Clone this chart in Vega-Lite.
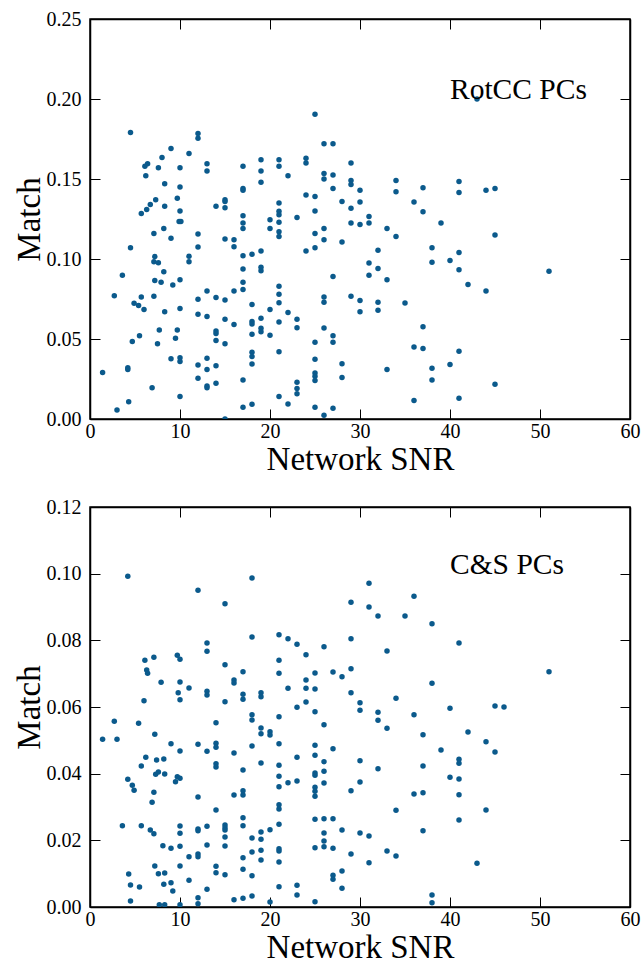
{
"$schema": "https://vega.github.io/schema/vega-lite/v6.json",
"background": "white",
"padding": {"left": 12, "top": 8, "right": 0, "bottom": 0},
"spacing": 19,
"config": {
  "view": {"stroke": "#000", "strokeWidth": 1.5},
  "font": "Liberation Serif",
  "axis": {"labelFont": "Liberation Serif", "labelFontSize": 20, "labelColor": "#000", "titleFont": "Liberation Serif", "titleFontSize": 33, "titleFontWeight": "normal", "titleColor": "#000", "tickSize": -10, "tickColor": "#000", "tickWidth": 1, "domainColor": "#000", "domainWidth": 1.5, "grid": false, "labelFlush": false, "labelOverlap": false}
},
"datasets": {
"top": [
{"snr":4.5,"match":0.179},{"snr":12,"match":0.1785},{"snr":12,"match":0.1754},{"snr":9,"match":0.169},{"snr":11,"match":0.166},{"snr":8,"match":0.1635},{"snr":6.4,"match":0.1596},{"snr":6.1,"match":0.158},{"snr":7.6,"match":0.157},{"snr":10,"match":0.157},{"snr":13,"match":0.1596},{"snr":13,"match":0.155},{"snr":17,"match":0.158},{"snr":19,"match":0.162},{"snr":19,"match":0.155},{"snr":6.2,"match":0.152},{"snr":8.3,"match":0.147},{"snr":10,"match":0.145},{"snr":17,"match":0.144},{"snr":17,"match":0.143},{"snr":19,"match":0.148},{"snr":7.3,"match":0.137},{"snr":9.7,"match":0.138},{"snr":6.7,"match":0.134},{"snr":8.3,"match":0.133},{"snr":15,"match":0.137},{"snr":15,"match":0.136},{"snr":14,"match":0.133},{"snr":15,"match":0.132},{"snr":6.3,"match":0.131},{"snr":10,"match":0.13},
{"snr":25,"match":0.1904},{"snr":26,"match":0.172},{"snr":27,"match":0.172},{"snr":21,"match":0.162},{"snr":21,"match":0.158},{"snr":24,"match":0.163},{"snr":24,"match":0.16},{"snr":22,"match":0.152},{"snr":29,"match":0.16},{"snr":26,"match":0.1535},{"snr":26,"match":0.15},{"snr":27,"match":0.1525},{"snr":29,"match":0.149},{"snr":29,"match":0.1465},{"snr":27,"match":0.144},{"snr":30,"match":0.143},{"snr":34,"match":0.149},{"snr":34,"match":0.142},{"snr":37,"match":0.1446},{"snr":24,"match":0.14},{"snr":25,"match":0.139},{"snr":21,"match":0.135},{"snr":28,"match":0.136},{"snr":30,"match":0.1356},{"snr":36,"match":0.1356},{"snr":25,"match":0.13},{"snr":29,"match":0.1317},
{"snr":43,"match":0.2},{"snr":41,"match":0.1485},{"snr":41,"match":0.1415},{"snr":44,"match":0.143},{"snr":45,"match":0.144},
{"snr":39,"match":0.1225},{"snr":45,"match":0.115},{"snr":41,"match":0.104},{"snr":40,"match":0.099},{"snr":41,"match":0.0933},{"snr":51,"match":0.0923},{"snr":42,"match":0.084},{"snr":44,"match":0.08},{"snr":41,"match":0.0423},{"snr":40,"match":0.034},{"snr":45,"match":0.0217},{"snr":41,"match":0.013},
{"snr":5.7,"match":0.1285},{"snr":17,"match":0.127},{"snr":9.9,"match":0.1235},{"snr":10.1,"match":0.1235},{"snr":17,"match":0.1225},{"snr":17,"match":0.119},{"snr":8.2,"match":0.119},{"snr":7.1,"match":0.116},{"snr":12,"match":0.1156},{"snr":9,"match":0.113},{"snr":15,"match":0.1125},{"snr":16,"match":0.112},{"snr":16,"match":0.1077},{"snr":12,"match":0.1075},{"snr":4.5,"match":0.107},{"snr":19,"match":0.105},{"snr":18,"match":0.103},{"snr":17,"match":0.102},{"snr":7.2,"match":0.1015},{"snr":11,"match":0.1017},{"snr":7.1,"match":0.0983},{"snr":7.6,"match":0.0977},{"snr":11,"match":0.0983},{"snr":17,"match":0.0938},{"snr":19,"match":0.0948},{"snr":19,"match":0.0927},{"snr":8.2,"match":0.092},{"snr":3.6,"match":0.0898},{"snr":7.2,"match":0.0865},{"snr":7.9,"match":0.0854},{"snr":10,"match":0.087},{"snr":9.2,"match":0.0838},{"snr":17,"match":0.0854},{"snr":17,"match":0.081},{"snr":16,"match":0.08},{"snr":13,"match":0.08},{"snr":2.7,"match":0.077},{"snr":7.1,"match":0.0767},{"snr":5.7,"match":0.0763},{"snr":12,"match":0.0748},{"snr":14,"match":0.076},{"snr":15,"match":0.0744},{"snr":4.9,"match":0.0723},{"snr":5.4,"match":0.071},{"snr":6,"match":0.0685},{"snr":10,"match":0.069},{"snr":18,"match":0.0715},{"snr":8.3,"match":0.067},{"snr":12,"match":0.0654},{"snr":13,"match":0.064},{"snr":15,"match":0.0623},{"snr":19,"match":0.063},{"snr":18,"match":0.061},{"snr":18,"match":0.0594},{"snr":16,"match":0.059},{"snr":19,"match":0.0567},{"snr":19,"match":0.0546},{"snr":7.7,"match":0.0556},{"snr":9.7,"match":0.0556},{"snr":14,"match":0.055},{"snr":14,"match":0.0535},{"snr":5.5,"match":0.052},{"snr":9.5,"match":0.0504},{"snr":18,"match":0.053},{"snr":4.7,"match":0.0485},{"snr":14,"match":0.049},{"snr":7.5,"match":0.047},{"snr":15,"match":0.047},{"snr":18,"match":0.0417},{"snr":18,"match":0.039},{"snr":9,"match":0.0377},{"snr":10,"match":0.0383},{"snr":10,"match":0.036},{"snr":13,"match":0.038},{"snr":18,"match":0.0344},{"snr":12,"match":0.0337},{"snr":4.2,"match":0.032},{"snr":4.2,"match":0.031},{"snr":14,"match":0.0333},{"snr":13,"match":0.031},{"snr":1.4,"match":0.029},{"snr":12,"match":0.0254},{"snr":17,"match":0.0244},{"snr":13,"match":0.0206},{"snr":13,"match":0.0196},{"snr":14,"match":0.0223},{"snr":6.9,"match":0.0196},{"snr":10,"match":0.014},{"snr":4.3,"match":0.0108},{"snr":18,"match":0.0092},{"snr":17,"match":0.0073},{"snr":3,"match":0.0056},{"snr":15,"match":0.0},
{"snr":21,"match":0.1298},{"snr":21,"match":0.1277},{"snr":20,"match":0.1246},{"snr":23,"match":0.126},{"snr":21,"match":0.123},{"snr":20,"match":0.119},{"snr":21,"match":0.117},{"snr":21,"match":0.114},{"snr":25,"match":0.116},{"snr":26,"match":0.119},{"snr":26,"match":0.112},{"snr":25,"match":0.107},{"snr":24,"match":0.105},{"snr":28,"match":0.1106},{"snr":29,"match":0.1225},{"snr":30,"match":0.1215},{"snr":31,"match":0.1265},{"snr":31,"match":0.1225},{"snr":33,"match":0.119},{"snr":34,"match":0.114},{"snr":37,"match":0.1296},{"snr":32,"match":0.1054},{"snr":38,"match":0.107},{"snr":38,"match":0.098},{"snr":31,"match":0.0975},{"snr":32,"match":0.094},{"snr":31,"match":0.0898},{"snr":33,"match":0.087},{"snr":27,"match":0.089},{"snr":21,"match":0.083},{"snr":21,"match":0.078},{"snr":21,"match":0.0727},{"snr":26,"match":0.0763},{"snr":26,"match":0.073},{"snr":29,"match":0.0767},{"snr":30,"match":0.074},{"snr":30,"match":0.067},{"snr":32,"match":0.073},{"snr":32,"match":0.068},{"snr":35,"match":0.0725},{"snr":20,"match":0.0685},{"snr":22,"match":0.0665},{"snr":23,"match":0.0623},{"snr":23,"match":0.057},{"snr":21,"match":0.0606},{"snr":26,"match":0.0569},{"snr":20,"match":0.0523},{"snr":27,"match":0.052},{"snr":27,"match":0.048},{"snr":25,"match":0.048},{"snr":37,"match":0.0577},{"snr":36,"match":0.045},{"snr":37,"match":0.044},{"snr":21,"match":0.042},{"snr":25,"match":0.0373},{"snr":28,"match":0.0346},{"snr":33,"match":0.031},{"snr":38,"match":0.0317},{"snr":38,"match":0.0244},{"snr":25,"match":0.0288},{"snr":25,"match":0.0267},{"snr":25,"match":0.024},{"snr":28,"match":0.026},{"snr":23,"match":0.023},{"snr":23,"match":0.019},{"snr":23,"match":0.0158},{"snr":21,"match":0.014},{"snr":22,"match":0.0094},{"snr":25,"match":0.0073},{"snr":27,"match":0.0067},{"snr":26,"match":0.0023},{"snr":36,"match":0.0115}
],
"bottom": [
{"snr":4.2,"match":0.0992},{"snr":18,"match":0.0987},{"snr":12,"match":0.095},{"snr":15,"match":0.091},{"snr":18,"match":0.081},{"snr":13,"match":0.0792},{"snr":13,"match":0.0767},{"snr":6.1,"match":0.074},{"snr":7.1,"match":0.0749},{"snr":6.3,"match":0.0711},{"snr":6.4,"match":0.0701},{"snr":9.7,"match":0.0755},{"snr":10,"match":0.0743},{"snr":15,"match":0.0727},{"snr":17,"match":0.0706},{"snr":16,"match":0.0681},{"snr":16,"match":0.0672},{"snr":7.9,"match":0.0674},{"snr":10,"match":0.0675},{"snr":11,"match":0.0657},{"snr":9.8,"match":0.0643},{"snr":13,"match":0.0647},{"snr":13,"match":0.0636},{"snr":19,"match":0.0643},{"snr":19,"match":0.0631},{"snr":17,"match":0.0638},{"snr":17,"match":0.0623},{"snr":10,"match":0.0622},
{"snr":6,"match":0.0619},{"snr":15,"match":0.0616},{"snr":18,"match":0.0577},{"snr":18,"match":0.0561},{"snr":19,"match":0.0537},{"snr":19,"match":0.052},{"snr":2.7,"match":0.0557},{"snr":5.4,"match":0.0551},{"snr":14,"match":0.0553},{"snr":1.4,"match":0.0503},{"snr":3,"match":0.0503},{"snr":7.2,"match":0.0518},{"snr":9,"match":0.049},{"snr":12,"match":0.0488},{"snr":10,"match":0.0468},{"snr":13,"match":0.0467},{"snr":14,"match":0.0491},{"snr":14,"match":0.0479},{"snr":16,"match":0.0462},{"snr":18,"match":0.0483},{"snr":6.2,"match":0.0449},{"snr":5.7,"match":0.0423},{"snr":7.4,"match":0.0441},{"snr":8.2,"match":0.0444},{"snr":14,"match":0.043},{"snr":14,"match":0.042},{"snr":19,"match":0.0432},{"snr":17,"match":0.0411},{"snr":7.3,"match":0.0398},{"snr":7.6,"match":0.0405},{"snr":8.3,"match":0.0399},{"snr":9.7,"match":0.0391},{"snr":10,"match":0.0386},{"snr":9.5,"match":0.0376},{"snr":4.2,"match":0.0383},{"snr":4.7,"match":0.0365},{"snr":4.9,"match":0.035},{"snr":7.1,"match":0.0344},{"snr":6.9,"match":0.0314},{"snr":12,"match":0.033},{"snr":16,"match":0.0336},{"snr":17,"match":0.0349},{"snr":17,"match":0.0336},{"snr":14,"match":0.0291},{"snr":17,"match":0.0268},{"snr":3.6,"match":0.0244},{"snr":5.7,"match":0.0244},{"snr":6.7,"match":0.0231},{"snr":7.1,"match":0.022},{"snr":10,"match":0.0243},{"snr":10,"match":0.0221},{"snr":12,"match":0.0234},{"snr":12,"match":0.0229},{"snr":13,"match":0.0242},{"snr":15,"match":0.0246},{"snr":15,"match":0.0238},{"snr":15,"match":0.0231},{"snr":15,"match":0.021},{"snr":17,"match":0.0244},{"snr":19,"match":0.0225},{"snr":18,"match":0.0207},{"snr":19,"match":0.0203},{"snr":8.1,"match":0.0184},{"snr":9,"match":0.0176},{"snr":10,"match":0.0182},{"snr":13,"match":0.0186},{"snr":15,"match":0.0183},{"snr":19,"match":0.017},{"snr":18,"match":0.0165},{"snr":11,"match":0.0151},{"snr":12,"match":0.0159},{"snr":12,"match":0.0151},{"snr":17,"match":0.0148},{"snr":19,"match":0.0141},{"snr":7.2,"match":0.0123},{"snr":10,"match":0.0123},{"snr":14,"match":0.0122},{"snr":17,"match":0.0113},{"snr":4.3,"match":0.0099},{"snr":7.6,"match":0.01},{"snr":8.3,"match":0.0102},{"snr":14,"match":0.0103},{"snr":15,"match":0.0097},{"snr":18,"match":0.0094},{"snr":11,"match":0.008},{"snr":4.5,"match":0.0066},{"snr":5.5,"match":0.006},{"snr":8.2,"match":0.0068},{"snr":9,"match":0.0073},{"snr":9.2,"match":0.0048},{"snr":13,"match":0.0053},{"snr":4.5,"match":0.0018},{"snr":7.7,"match":0.0007},{"snr":8.3,"match":0.0007},{"snr":10,"match":0.0007},{"snr":12,"match":0.0028},{"snr":12,"match":0.001},{"snr":16,"match":0.0022},{"snr":17,"match":0.0026},{"snr":18,"match":0.0033},
{"snr":31,"match":0.0971},{"snr":36,"match":0.0932},{"snr":29,"match":0.0914},{"snr":31,"match":0.09},{"snr":32,"match":0.0873},{"snr":35,"match":0.0873},{"snr":38,"match":0.085},{"snr":21,"match":0.0817},{"snr":22,"match":0.0805},{"snr":23,"match":0.0788},{"snr":26,"match":0.0781},{"snr":29,"match":0.0805},{"snr":24,"match":0.0757},{"snr":33,"match":0.0768},{"snr":21,"match":0.074},{"snr":21,"match":0.0701},{"snr":25,"match":0.0702},{"snr":27,"match":0.0705},{"snr":28,"match":0.0691},{"snr":29,"match":0.0715},{"snr":24,"match":0.0681},{"snr":22,"match":0.0656},{"snr":24,"match":0.0656},{"snr":25,"match":0.0654},{"snr":29,"match":0.0643},{"snr":38,"match":0.0671},{"snr":34,"match":0.0626},
{"snr":41,"match":0.0792},{"snr":51,"match":0.0706},
{"snr":40,"match":0.0596},{"snr":45,"match":0.0603},{"snr":46,"match":0.06},{"snr":42,"match":0.0525},{"snr":44,"match":0.0496},{"snr":39,"match":0.0471},{"snr":45,"match":0.0465},{"snr":41,"match":0.0443},{"snr":41,"match":0.0431},{"snr":40,"match":0.0389},{"snr":41,"match":0.0384},{"snr":41,"match":0.0337},{"snr":44,"match":0.0291},{"snr":41,"match":0.0261},{"snr":43,"match":0.0131},
{"snr":24,"match":0.0615},{"snr":23,"match":0.0599},{"snr":25,"match":0.0586},{"snr":21,"match":0.0571},{"snr":30,"match":0.0613},{"snr":30,"match":0.059},{"snr":32,"match":0.0584},{"snr":32,"match":0.056},{"snr":33,"match":0.0536},{"snr":36,"match":0.0577},{"snr":37,"match":0.0517},{"snr":20,"match":0.0526},{"snr":20,"match":0.0516},{"snr":26,"match":0.0547},{"snr":21,"match":0.049},{"snr":25,"match":0.0485},{"snr":25,"match":0.0455},{"snr":27,"match":0.0475},{"snr":23,"match":0.0449},{"snr":26,"match":0.0436},{"snr":30,"match":0.0439},{"snr":21,"match":0.0425},{"snr":32,"match":0.0415},{"snr":37,"match":0.0423},{"snr":25,"match":0.0402},{"snr":25,"match":0.0395},{"snr":26,"match":0.0407},{"snr":21,"match":0.0392},{"snr":22,"match":0.0373},{"snr":23,"match":0.0378},{"snr":26,"match":0.0372},{"snr":30,"match":0.0375},{"snr":21,"match":0.0361},{"snr":25,"match":0.0359},{"snr":25,"match":0.0347},{"snr":25,"match":0.0332},{"snr":29,"match":0.0349},{"snr":36,"match":0.0339},{"snr":37,"match":0.0343},{"snr":21,"match":0.0307},{"snr":21,"match":0.0294},{"snr":34,"match":0.029},{"snr":25,"match":0.0263},{"snr":26,"match":0.0265},{"snr":27,"match":0.0265},{"snr":21,"match":0.0248},{"snr":20,"match":0.0232},{"snr":28,"match":0.0231},{"snr":26,"match":0.0222},{"snr":30,"match":0.0222},{"snr":31,"match":0.0213},{"snr":37,"match":0.0229},{"snr":26,"match":0.0198},{"snr":26,"match":0.0181},{"snr":25,"match":0.0178},{"snr":27,"match":0.0176},{"snr":21,"match":0.0175},{"snr":21,"match":0.0168},{"snr":21,"match":0.0135},{"snr":29,"match":0.0159},{"snr":33,"match":0.0168},{"snr":34,"match":0.0153},{"snr":31,"match":0.0133},{"snr":28,"match":0.0108},{"snr":27,"match":0.0095},{"snr":27,"match":0.0083},{"snr":28,"match":0.0056},{"snr":21,"match":0.0061},{"snr":23,"match":0.0065},{"snr":23,"match":0.0036},{"snr":20,"match":0.0015},{"snr":25,"match":0.0016},{"snr":38,"match":0.0036},{"snr":38,"match":0.0013}
]
},
"vconcat": [
{
 "width": 540, "height": 400,
 "layer": [
  {"data": {"name": "top"},
   "mark": {"type": "circle", "size": 30, "opacity": 1, "color": "#0b5a8c", "clip": true},
   "encoding": {
     "x": {"field": "snr", "type": "quantitative", "scale": {"domain": [0, 60], "nice": false, "zero": false}, "axis": {"orient": "bottom", "title": "Network SNR", "values": [0,10,20,30,40,50,60], "labelPadding": 12, "titlePadding": 2}},
     "y": {"field": "match", "type": "quantitative", "scale": {"domain": [0, 0.25], "nice": false}, "axis": {"orient": "left", "title": "Match", "values": [0,0.05,0.1,0.15,0.2,0.25], "format": ".2f", "labelPadding": 19, "titlePadding": 0}}
   }},
  {"data": {"values": [{}]},
   "mark": {"type": "text", "text": "RotCC PCs", "align": "left", "baseline": "alphabetic", "fontSize": 29.5, "font": "Liberation Serif", "color": "#000"},
   "encoding": {
     "x": {"datum": 40, "type": "quantitative", "scale": {"domain": [0, 60], "nice": false, "zero": false}, "axis": {"orient": "top", "labels": false, "title": null, "values": [0,10,20,30,40,50,60]}},
     "y": {"datum": 0.2, "type": "quantitative", "scale": {"domain": [0, 0.25], "nice": false}, "axis": {"orient": "right", "labels": false, "title": null, "values": [0,0.05,0.1,0.15,0.2,0.25]}}
   }}
 ],
 "resolve": {"axis": {"x": "independent", "y": "independent"}}
},
{
 "width": 540, "height": 400,
 "layer": [
  {"data": {"name": "bottom"},
   "mark": {"type": "circle", "size": 30, "opacity": 1, "color": "#0b5a8c", "clip": true},
   "encoding": {
     "x": {"field": "snr", "type": "quantitative", "scale": {"domain": [0, 60], "nice": false, "zero": false}, "axis": {"orient": "bottom", "title": "Network SNR", "values": [0,10,20,30,40,50,60], "labelPadding": 12, "titlePadding": 2}},
     "y": {"field": "match", "type": "quantitative", "scale": {"domain": [0, 0.12], "nice": false}, "axis": {"orient": "left", "title": "Match", "values": [0,0.02,0.04,0.06,0.08,0.1,0.12], "format": ".2f", "labelPadding": 19, "titlePadding": 0}}
   }},
  {"data": {"values": [{}]},
   "mark": {"type": "text", "text": "C&S PCs", "align": "left", "baseline": "alphabetic", "fontSize": 29.5, "font": "Liberation Serif", "color": "#000"},
   "encoding": {
     "x": {"datum": 40, "type": "quantitative", "scale": {"domain": [0, 60], "nice": false, "zero": false}, "axis": {"orient": "top", "labels": false, "title": null, "values": [0,10,20,30,40,50,60]}},
     "y": {"datum": 0.1, "type": "quantitative", "scale": {"domain": [0, 0.12], "nice": false}, "axis": {"orient": "right", "labels": false, "title": null, "values": [0,0.02,0.04,0.06,0.08,0.1,0.12]}}
   }}
 ],
 "resolve": {"axis": {"x": "independent", "y": "independent"}}
}
]
}
